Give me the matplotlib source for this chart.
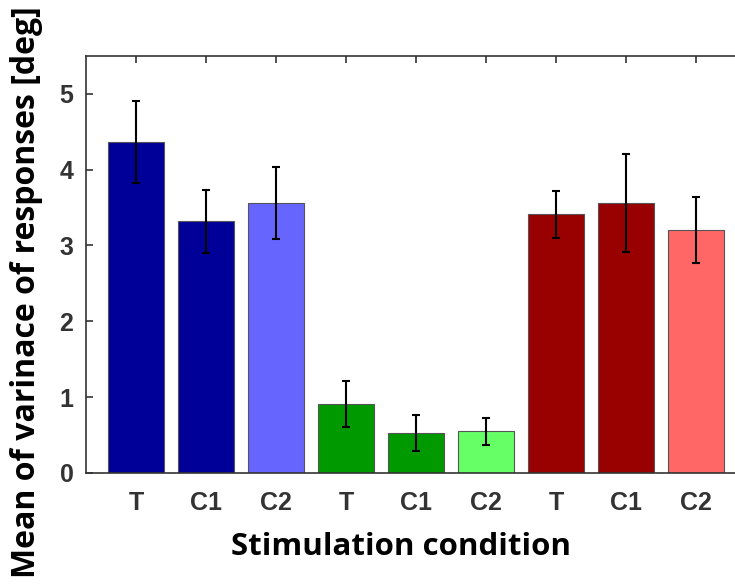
import matplotlib.pyplot as plt
import numpy as np

# values
labels = ['T', 'C1', 'C2', 'T', 'C1', 'C2', 'T', 'C1', 'C2']
means = [4.37, 3.32, 3.56, 0.905, 0.525, 0.55, 3.41, 3.56, 3.205]
errs = [0.54, 0.415, 0.47, 0.305, 0.235, 0.18, 0.31, 0.65, 0.435]
colors = ['#000099', '#000099', '#6666ff',
          '#009900', '#009900', '#66ff66',
          '#990000', '#990000', '#ff6666']

fig = plt.figure(figsize=(7.35, 5.85), dpi=100)
ax = fig.add_axes([0.117, 0.1915, 0.898, 0.713])

x = np.arange(1, len(means) + 1)
ax.bar(x, means, width=0.8, color=colors, edgecolor='#555555', linewidth=0.8, zorder=2)
ax.errorbar(x, means, yerr=errs, fmt='none', ecolor='black', elinewidth=1.5,
            capsize=3, capthick=1.5, zorder=3)

ax.set_xlim(0.286, 9.714)
ax.set_ylim(0, 5.5)
ax.set_xticks(x)
ax.set_xticklabels(labels)
ax.set_yticks([0, 1, 2, 3, 4, 5])

for s in ax.spines.values():
    s.set_color('#333333')
    s.set_linewidth(1.2)

ax.tick_params(direction='in', top=True, right=True, length=5, width=1.2,
               color='#333333', labelcolor='#333333')
ax.tick_params(axis='x', pad=13)
ax.tick_params(axis='y', pad=9)
for t in ax.get_xticklabels() + ax.get_yticklabels():
    t.set_fontfamily('Liberation Sans')
    t.set_fontweight('bold')
    t.set_fontsize(18)

# axis titles placed in figure coords (the reference plot is cropped on the right)
fig.text(401 / 735, 1 - 547 / 585, 'Stimulation condition', fontfamily='Open Sans',
         fontweight='bold', fontsize=22.5, ha='center', va='center')
fig.text(27 / 735, 1 - 292 / 585, 'Mean of varinace of responses [deg]',
         fontfamily='Open Sans', fontweight='bold', fontsize=23, rotation=90,
         ha='center', va='center')

fig.savefig('out.png', dpi=100)
